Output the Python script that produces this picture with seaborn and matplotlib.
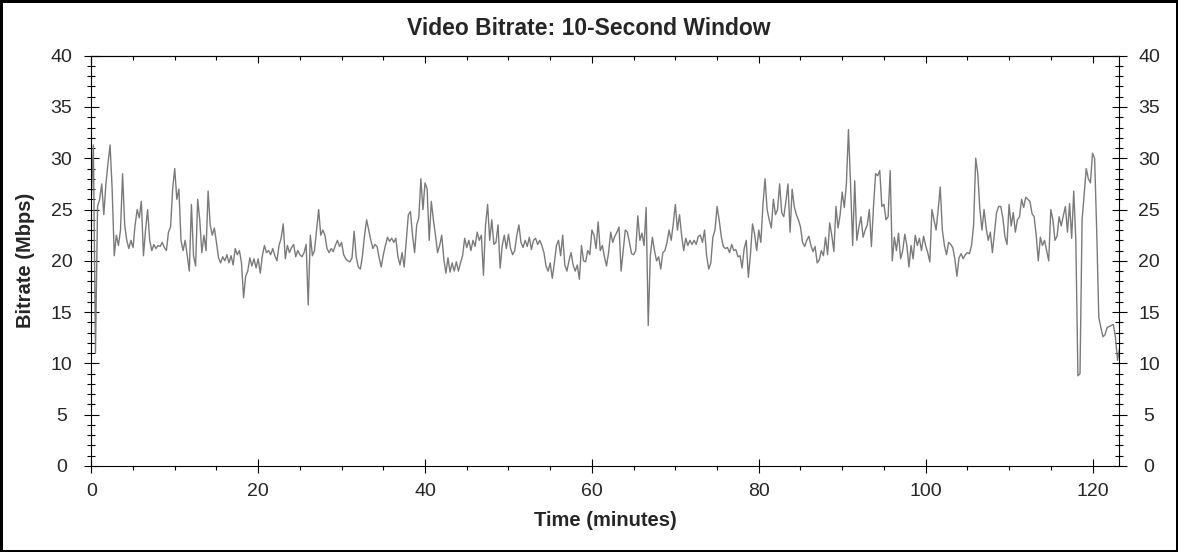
import numpy as np
import pandas as pd
import matplotlib
matplotlib.use("Agg")
import matplotlib.pyplot as plt
import seaborn as sns
from matplotlib.ticker import MultipleLocator

# ---------------- data (one value every 0.25 min) ----------------
sample_step_min = 0.25

bitrate_00_30 = [
    26.0, 31.3, 11.0, 25.3,  26.0, 27.5, 24.5, 27.5,  29.5, 31.3, 27.0, 20.5,
    22.5, 21.5, 23.0, 28.5,  23.5, 22.0, 21.2, 22.0,  21.3, 23.5, 25.0, 24.2,
    25.8, 20.5, 23.0, 25.0,  22.0, 21.0, 21.6, 21.2,  21.5, 21.4, 21.8, 21.3,
    21.0, 22.8, 23.3, 27.0,  29.0, 26.0, 27.0, 22.0,  21.0, 22.0, 20.5, 19.0,
    25.5, 20.5, 19.5, 26.0,  24.0, 20.8, 22.5, 21.0,  26.8, 23.5, 22.5, 23.2,
    21.8, 20.3, 19.8, 20.4,  20.0, 20.6, 19.8, 20.5,  19.6, 21.2, 20.6, 21.0,
    19.8, 16.4, 18.5, 19.0,  20.3, 19.5, 20.2, 19.3,  20.2, 18.8, 20.5, 21.5,
    20.8, 21.0, 20.6, 21.2,  20.5, 20.0, 21.5, 22.2,  23.6, 20.2, 21.5, 20.8,
    21.3, 21.6, 20.4, 21.0,  20.6, 20.4, 20.8, 21.6,  15.7, 22.5, 20.5, 21.0,
    23.0, 25.0, 22.5, 23.0,  22.5, 21.2, 20.8, 21.2,  20.9, 21.5, 22.0, 21.4,
]
bitrate_30_60 = [
    21.8, 20.6, 20.2, 20.0,  19.9, 20.3, 22.9, 20.4,  19.4, 19.2, 20.5, 22.5,
    24.0, 23.0, 22.0, 21.2,  21.6, 21.4, 20.3, 19.4,  20.6, 21.5, 22.3, 21.9,
    22.2, 21.8, 22.2, 20.4,  19.6, 20.8, 19.4, 22.0,  24.5, 24.8, 22.5, 20.8,
    23.5, 24.2, 28.0, 25.0,  27.6, 27.0, 22.0, 25.8,  24.0, 22.5, 20.8, 21.5,
    22.5, 20.2, 18.8, 20.3,  18.9, 19.8, 19.0, 19.9,  19.0, 19.8, 20.5, 22.2,
    21.3, 22.0, 21.0, 22.0,  21.4, 22.8, 22.0, 22.5,  18.6, 23.5, 25.5, 22.0,
    24.0, 21.6, 21.8, 23.5,  19.3, 21.5, 22.5, 21.2,  22.6, 21.2, 20.6, 21.0,
    22.5, 23.5, 21.8, 21.3,  22.0, 21.4, 22.3, 21.1,  22.0, 22.2, 21.6, 22.0,
    21.5, 20.8, 19.5, 19.0,  19.8, 18.3, 19.8, 21.5,  22.0, 20.5, 22.5, 19.6,
    19.0, 20.0, 20.8, 19.6,  19.0, 19.6, 18.2, 21.5,  20.0, 19.9, 21.0, 20.6,
]
bitrate_60_90 = [
    23.0, 22.5, 21.2, 23.8,  21.0, 21.5, 20.4, 19.5,  20.8, 22.8, 21.8, 22.4,
    22.8, 23.3, 19.0, 21.0,  23.0, 22.8, 21.8, 20.7,  20.6, 21.0, 24.4, 22.0,
    22.7, 21.5, 25.2, 13.7,  20.5, 22.3, 21.0, 20.0,  20.4, 19.2, 20.8, 21.0,
    21.8, 23.0, 22.0, 23.6,  25.5, 23.0, 24.5, 22.5,  21.0, 22.2, 21.5, 22.0,
    21.6, 22.0, 21.6, 22.4,  22.5, 21.8, 23.0, 20.5,  19.2, 19.8, 22.3, 23.0,
    25.3, 24.0, 22.4, 21.4,  21.2, 21.3, 20.8, 21.6,  21.0, 21.1, 20.4, 20.5,
    19.3, 21.2, 22.0, 18.4,  20.6, 23.6, 22.6, 21.0,  23.0, 21.8, 25.5, 28.0,
    25.0, 24.0, 23.2, 26.0,  24.5, 25.0, 27.5, 24.7,  24.3, 25.8, 27.5, 22.8,
    27.0, 25.3, 24.5, 24.0,  23.3, 21.8, 21.4, 22.0,  22.4, 21.5, 20.9, 21.4,
    19.8, 20.1, 21.0, 20.5,  22.3, 20.6, 23.7, 22.5,  20.9, 25.3, 23.2, 24.5,
]
bitrate_90_end = [
    26.7, 25.2, 27.5, 32.8,  27.5, 21.5, 27.8, 22.0,  23.3, 24.3, 22.3, 23.0,
    23.5, 25.0, 21.4, 25.3,  28.5, 28.3, 28.8, 25.3,  25.5, 24.0, 24.3, 28.8,
    20.0, 22.3, 21.0, 22.7,  20.2, 21.0, 22.6, 21.5,  19.4, 21.5, 20.2, 22.5,
    21.5, 22.2, 21.0, 22.4,  21.5, 20.8, 19.9, 25.0,  24.0, 23.0, 25.0, 27.2,
    23.0, 21.5, 20.6, 21.8,  21.6, 21.3, 20.2, 18.5,  20.3, 20.7, 20.2, 20.6,
    20.8, 20.7, 21.5, 23.5,  30.0, 28.5, 25.0, 23.0,  25.0, 23.2, 22.0, 22.8,
    20.8, 22.8, 24.7, 25.3,  25.3, 24.2, 22.4, 21.6,  25.5, 23.4, 24.7, 22.8,
    24.0, 24.3, 26.0, 25.2,  26.2, 26.0, 25.8, 24.6,  24.3, 22.5, 20.0, 22.3,
    21.5, 22.0, 21.0, 20.0,  25.0, 24.0, 22.0, 22.4,  24.3, 23.4, 24.4, 25.3,
    22.8, 25.6, 22.2, 26.8,  22.0, 8.8, 9.0, 24.0,  26.5, 29.0, 28.0, 27.6,
    30.5, 30.0, 23.0, 14.5,  13.5, 12.6, 12.8, 13.5,  13.6, 13.7, 13.8, 12.5,
    10.3, 11.5,
]

title_text = "Video Bitrate: 10-Second Window"
x_label = "Time (minutes)"
y_label = "Bitrate (Mbps)"
x_major_ticks = [0, 20, 40, 60, 80, 100, 120]
y_major_ticks = [0, 5, 10, 15, 20, 25, 30, 35, 40]
x_limits = (0, 123.21)
y_limits = (0, 40)

# ---------------- build frame ----------------
bitrate = bitrate_00_30 + bitrate_30_60 + bitrate_60_90 + bitrate_90_end
time_min = np.arange(len(bitrate)) * sample_step_min
df = pd.DataFrame({"time": time_min, "bitrate": bitrate})

sns.set_style("white")
plt.rcParams["font.family"] = ["Liberation Sans", "DejaVu Sans"]
plt.rcParams["axes.edgecolor"] = "black"
plt.rcParams["axes.linewidth"] = 0.8

fig = plt.figure(figsize=(11.78, 5.52), dpi=100, facecolor="white",
                 edgecolor="black", linewidth=2.5)
ax = fig.add_axes([91.3 / 1178, 1 - 466 / 552, (1119.3 - 91.3) / 1178, (466 - 55.7) / 552])

sns.lineplot(data=df, x="time", y="bitrate", ax=ax, color="#7a7a7a",
             linewidth=1.0, legend=False)

ax.set_xlim(*x_limits)
ax.set_ylim(*y_limits)
ax.set_xticks(x_major_ticks)
ax.set_yticks(y_major_ticks)
ax.xaxis.set_minor_locator(MultipleLocator(5))
ax.yaxis.set_minor_locator(MultipleLocator(1))

for s in ax.spines.values():
    s.set_visible(True)
    s.set_color("black")
    s.set_linewidth(0.8)

# bottom x ticks
ax.tick_params(axis="x", which="major", direction="inout", length=10, width=0.8,
               color="black", labelsize=14, pad=7, top=False, bottom=True)
ax.tick_params(axis="x", which="minor", direction="out", length=3, width=0.8,
               color="black", top=False, bottom=True)
# y ticks both sides
ax.tick_params(axis="y", which="major", direction="inout", length=10.8, width=0.8,
               color="black", labelsize=14, pad=16, left=True, right=True,
               labelleft=True, labelright=True)
ax.tick_params(axis="y", which="minor", direction="inout", length=5.8, width=0.8,
               color="black", left=True, right=True)
for t in ax.yaxis.get_major_ticks():
    t.label1.set_horizontalalignment("center")
    t.label2.set_horizontalalignment("center")

# top ticks pointing inward
top = ax.secondary_xaxis("top")
top.set_xticks(x_major_ticks)
top.set_xticklabels([])
top.xaxis.set_minor_locator(MultipleLocator(5))
top.tick_params(axis="x", which="major", direction="in", length=5, width=0.8, color="black")
top.tick_params(axis="x", which="minor", direction="in", length=3, width=0.8, color="black")
top.spines["top"].set_linewidth(0.8)

# title centred on the whole figure, baseline at ~35 px from the top
fig.text(0.5, 1 - 35 / 552, title_text, fontsize=16.5, fontweight="bold",
         ha="center", va="baseline")
ax.set_xlabel(x_label, fontsize=14.5, fontweight="bold", labelpad=8)
ax.set_ylabel(y_label, fontsize=14.5, fontweight="bold", labelpad=11)

fig.savefig("out.png", dpi=100, facecolor="white", edgecolor="black")
